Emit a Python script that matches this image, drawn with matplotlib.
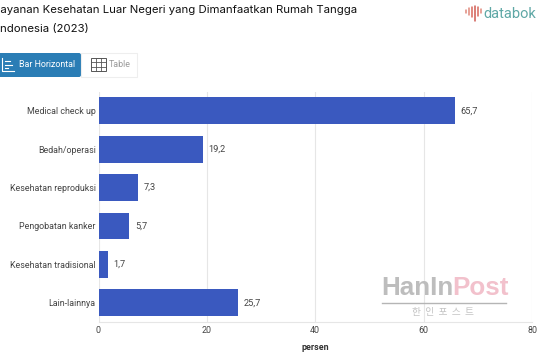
import matplotlib
matplotlib.use('Agg')
import matplotlib.pyplot as plt
from matplotlib.patches import FancyBboxPatch, Rectangle

W, H = 537, 360

categories = ['Medical check up', 'Bedah/operasi', 'Kesehatan reproduksi',
              'Pengobatan kanker', 'Kesehatan tradisional', 'Lain-lainnya']
values = [65.7, 19.2, 7.3, 5.7, 1.7, 25.7]
value_labels = ['65,7', '19,2', '7,3', '5,7', '1,7', '25,7']
x_ticks = [0, 20, 40, 60, 80]

plt.rcParams['font.family'] = ['Roboto', 'DejaVu Sans']

fig = plt.figure(figsize=(W / 100, H / 100), dpi=100)

# overlay in pixel coordinates for the page parts around the chart
page = fig.add_axes([0, 0, 1, 1])
page.set_xlim(0, W)
page.set_ylim(H, 0)
page.axis('off')

# chart
ax = fig.add_axes([98.5 / W, 1 - 322 / H, (532 - 98.5) / W, (322 - 91.5) / H])
ax.barh(categories, values, height=0.7, color='#3a59bf', zorder=3)
ax.set_ylim(5.5, -0.5)
ax.set_xlim(0, 80)
ax.set_xticks(x_ticks)
ax.tick_params(axis='both', length=0, labelsize=6.4, labelcolor='#444444')
ax.tick_params(axis='y', pad=2)
ax.tick_params(axis='x', pad=3)
ax.grid(axis='x', color='#e6e6e6', linewidth=0.8, zorder=0)
for side in ['top', 'right', 'left']:
    ax.spines[side].set_visible(False)
ax.spines['bottom'].set_color('#e6e6e6')
ax.spines['bottom'].set_linewidth(0.8)
ax.patch.set_alpha(0)
ax.set_xlabel('persen', fontsize=6.4, fontweight='bold', color='#333333', labelpad=6)
for i, v in enumerate(values):
    ax.annotate(value_labels[i], (v, i), xytext=(4, 0), textcoords='offset points',
                va='center', fontsize=6.6, color='#444444')

# title, cut off by the left edge like the screenshot
page.text(-6, 10, 'Layanan Kesehatan Luar Negeri yang Dimanfaatkan Rumah Tangga',
          fontsize=8.2, color='#111111', va='center', family=['Inter', 'DejaVu Sans'])
page.text(-3, 29, 'Indonesia (2023)', fontsize=8.2, color='#111111', va='center',
          family=['Inter', 'DejaVu Sans'])

# buttons
page.add_patch(FancyBboxPatch((-10, 53), 91, 24, boxstyle='round,pad=0,rounding_size=2',
                              fc='#2a7db5', ec='none'))
page.add_patch(Rectangle((81, 53), 56, 24, fc='white', ec='#eeeeee', lw=0.8))
page.text(19, 64.5, 'Bar Horizontal', fontsize=6.4, color='white', va='center')
page.text(109, 64.5, 'Table', fontsize=6.4, color='#999999', va='center')
page.plot([2, 2, 14], [58, 71, 71], color='white', lw=0.8)
for yy, x1 in zip([61, 64.5, 68], [10, 12, 8]):
    page.plot([5, x1], [yy, yy], color='white', lw=0.8)
page.add_patch(Rectangle((91, 58), 15, 13, fc='none', ec='#555555', lw=0.7))
for xx in [96, 101]:
    page.plot([xx, xx], [58, 71], color='#555555', lw=0.6)
for yy in [62.3, 66.6]:
    page.plot([91, 106], [yy, yy], color='#555555', lw=0.6)

# databoks logo
page.text(483, 13.5, 'databok', fontsize=10.5, color='#5fa8a6', va='center', ha='left')
for xx, y1, y2, c in [(466, 10, 13, '#e0897c'), (469, 8, 15, '#e0897c'), (472, 7, 17, '#d9685c'),
                      (475, 6, 21, '#cf5a52'), (478, 7, 16, '#d9685c'), (481, 9, 13, '#e0897c')]:
    page.plot([xx, xx], [y1, y2], color=c, lw=1.1, solid_capstyle='round')

# HanInPost watermark
wm = fig.add_axes([0, 0, 1, 1])
wm.set_xlim(0, W)
wm.set_ylim(H, 0)
wm.axis('off')
wm.patch.set_alpha(0)
wm.text(381, 288, 'HanIn', fontsize=18.7, fontweight='bold', color='#bdbdbd', va='center',
        family=['Liberation Sans'])
wm.text(452, 288, 'Post', fontsize=18.7, fontweight='bold', color='#f2c1cc', va='center',
        family=['Liberation Sans'])
wm.plot([382, 506], [303, 303], color='#b5b5b5', lw=1)
wm.text(443, 312, '한  인  포  스  트', fontsize=7, color='#c4c4c4', va='center', ha='center',
        family=['Noto Sans CJK KR', 'DejaVu Sans'])

fig.savefig('out.png', dpi=100)
